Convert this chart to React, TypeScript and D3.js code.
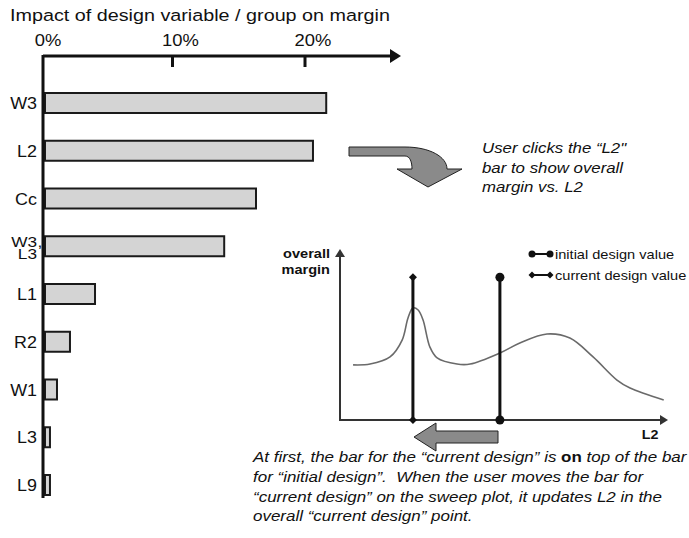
import React from "react";
import * as d3 from "d3";

const categories = ["W3", "L2", "Cc", "W3,|L3", "L1", "R2", "W1", "L3", "L9"];
const impact = [0.213, 0.203, 0.16, 0.136, 0.0385, 0.0196, 0.0098, 0.0045, 0.0045];
const xTicks = [0, 0.1, 0.2];
const tickLabels = ["0%", "10%", "20%"];

// sweep plot data (normalized L2, normalized overall margin)
const sweepL2 = [0.04, 0.092, 0.153, 0.19, 0.208, 0.223, 0.239, 0.254, 0.275, 0.297, 0.358, 0.398, 0.489, 0.55, 0.633, 0.703, 0.774, 0.847, 0.887, 0.99];
const sweepMargin = [0.324, 0.329, 0.371, 0.47, 0.6, 0.659, 0.647, 0.588, 0.429, 0.365, 0.329, 0.329, 0.394, 0.453, 0.506, 0.482, 0.371, 0.235, 0.188, 0.118];
const initialL2 = 0.489;
const currentL2 = 0.223;
const markerTop = 0.84;

const topText = ["User clicks the \u201cL2\"", "bar to show overall", "margin vs. L2"];

function T({ x, y, k = 1.16, children, ...rest }: any) {
  return (
    <text transform={`translate(${x},${y}) scale(${k},1)`} fill="#111" {...rest}>
      {children}
    </text>
  );
}

export default function App() {
  const x = d3.scaleLinear().domain([0, 0.2]).range([44, 309]);
  const y = d3.scalePoint().domain(categories).range([103, 485]);
  const barH = 20;

  const sx = d3.scaleLinear().domain([0, 1]).range([340, 667]);
  const sy = d3.scaleLinear().domain([0, 1]).range([420, 250]);
  const line = d3
    .line<number>()
    .x((d, i) => sx(sweepL2[i]))
    .y((d) => sy(d))
    .curve(d3.curveCatmullRom.alpha(0.5));

  const font = "'Liberation Sans', Arial, Helvetica, sans-serif";
  const diamond = (cx: number, cy: number, s: number) =>
    `M${cx - s},${cy} L${cx},${cy - s} L${cx + s},${cy} L${cx},${cy + s} Z`;

  const xi = sx(initialL2);
  const xc = sx(currentL2);

  return (
    <svg width={689} height={538} style={{ position: "absolute", left: 0, top: 0 }} fontFamily={font}>
      <rect width={689} height={538} fill="#fff" />
      {/* Title */}
      <T x={10} y={21} fontSize={17} k={1.163}>
        Impact of design variable / group on margin
      </T>
      {/* tick labels */}
      {xTicks.map((t, i) => (
        <T key={i} x={x(t) + 4} y={46} fontSize={16} k={1.15} textAnchor="middle">
          {tickLabels[i]}
        </T>
      ))}
      {/* bars */}
      {categories.map((c, i) => (
        <rect
          key={c}
          x={x(0) + 1}
          y={(y(c) as number) - barH / 2}
          width={x(impact[i]) - x(0) - 1}
          height={barH}
          fill="#d4d4d4"
          stroke="#1a1a1a"
          strokeWidth={2}
        />
      ))}
      {/* category labels */}
      {categories.map((c) => {
        const parts = c.split("|");
        const cy = y(c) as number;
        if (parts.length === 1)
          return (
            <T key={c} x={37} y={cy + 6} fontSize={16} k={1.12} textAnchor="end">
              {c}
            </T>
          );
        const first = parts[0].replace(",", "");
        return (
          <g key={c}>
            <T x={37} y={cy + 0.3} fontSize={15} k={1.15} textAnchor="end">
              {first}
            </T>
            <T x={37.5} y={cy + 0.3} fontSize={15} k={1.15}>
              ,
            </T>
            <T x={37} y={cy + 12.8} fontSize={15} k={1.15} textAnchor="end">
              {parts[1]}
            </T>
          </g>
        );
      })}
      {/* axes */}
      <line x1={x(0) - 1} x2={392} y1={56} y2={56} stroke="#111" strokeWidth={3} />
      <path d="M390,49 L401,56 L390,63 Z" fill="#111" />
      <line x1={x(0) - 1} x2={x(0) - 1} y1={55} y2={498} stroke="#111" strokeWidth={3} />
      {xTicks.slice(1).map((t) => (
        <line key={t} x1={x(t) - 4} x2={x(t) - 4} y1={56} y2={67} stroke="#111" strokeWidth={3} />
      ))}

      {/* curved arrow */}
      <path
        d="M349,147 L405,147 C430,147 447,157 447,169 L462,169 L428,187 L397,169 L412,169 C412,162 410,156 405,156 L349,156 Z"
        fill="#8a8a8a"
        stroke="#222"
        strokeWidth={1}
      />
      {topText.map((t, i) => (
        <T key={i} x={482} y={153 + i * 19.5} fontSize={14.5} k={1.16} fontStyle="italic">
          {t}
        </T>
      ))}

      {/* sweep plot */}
      <path d={line(sweepMargin) || ""} fill="none" stroke="#6a6a6a" strokeWidth={1.6} />
      <line x1={sx(0)} x2={sx(0)} y1={sy(0) + 1} y2={255} stroke="#333" strokeWidth={2} />
      <path d={`M${sx(0) - 5},257 L${sx(0)},249 L${sx(0) + 5},257 Z`} fill="#333" />
      <line x1={sx(0) - 1} x2={662} y1={sy(0)} y2={sy(0)} stroke="#333" strokeWidth={2} />
      <path d={`M660,${sy(0) - 5} L668,${sy(0)} L660,${sy(0) + 5} Z`} fill="#333" />
      <T x={330} y={258} fontSize={13} k={1.12} fontWeight="bold" textAnchor="end">
        overall
      </T>
      <T x={330} y={274} fontSize={13} k={1.12} fontWeight="bold" textAnchor="end">
        margin
      </T>
      <T x={650} y={439} fontSize={13} k={1.1} fontWeight="bold" textAnchor="middle">
        L2
      </T>

      {/* current design bar */}
      <line x1={xc} x2={xc} y1={sy(markerTop)} y2={sy(0)} stroke="#111" strokeWidth={3} />
      <path d={diamond(xc, sy(markerTop), 4)} fill="#111" />
      <path d={diamond(xc, sy(0), 4)} fill="#111" />
      {/* initial design bar */}
      <line x1={xi} x2={xi} y1={sy(markerTop)} y2={sy(0)} stroke="#111" strokeWidth={3} />
      <circle cx={xi} cy={sy(markerTop)} r={4.5} fill="#111" />
      <circle cx={xi} cy={sy(0)} r={4.5} fill="#111" />

      {/* legend */}
      <line x1={532} x2={550} y1={254} y2={254} stroke="#111" strokeWidth={2} />
      <circle cx={532} cy={254} r={3.5} fill="#111" />
      <circle cx={550} cy={254} r={3.5} fill="#111" />
      <T x={555} y={258.5} fontSize={13.5} k={1.08}>
        initial design value
      </T>
      <line x1={532} x2={550} y1={275} y2={275} stroke="#111" strokeWidth={2} />
      <path d={diamond(532, 275, 3.5)} fill="#111" />
      <path d={diamond(550, 275, 3.5)} fill="#111" />
      <T x={555} y={279.5} fontSize={13.5} k={1.08}>
        current design value
      </T>

      {/* left arrow */}
      <path
        d="M498,431 L436,431 L436,423 L414,437 L436,451 L436,443 L498,443 Z"
        fill="#8a8a8a"
        stroke="#222"
        strokeWidth={1}
      />

      {/* bottom caption */}
      <T x={253} y={462} fontSize={14.5} k={1.17} fontStyle="italic">
        At first, the bar for the {"\u201c"}current design{"\u201d"} is{" "}
        <tspan fontWeight="bold" fontStyle="normal">on</tspan> top of the bar
      </T>
      <T x={253} y={482} fontSize={14.5} k={1.17} fontStyle="italic">
        for {"\u201c"}initial design{"\u201d"}.{"\u00a0"} When the user moves the bar for
      </T>
      <T x={253} y={502} fontSize={14.5} k={1.17} fontStyle="italic">
        {"\u201c"}current design{"\u201d"} on the sweep plot, it updates L2 in the
      </T>
      <T x={253} y={521} fontSize={14.5} k={1.17} fontStyle="italic">
        overall {"\u201c"}current design{"\u201d"} point.
      </T>
    </svg>
  );
}
